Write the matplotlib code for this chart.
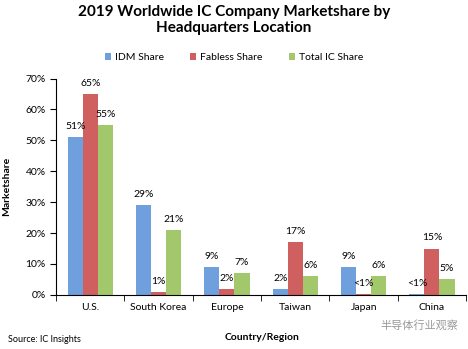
import numpy as np
import matplotlib.pyplot as plt

regions = ["U.S.", "South Korea", "Europe", "Taiwan", "Japan", "China"]
idm = [51, 29, 9, 2, 9, 0.3]
fabless = [65, 1, 2, 17, 0.3, 15]
total = [55, 21, 7, 6, 6, 5]
idm_lbl = ["51%", "29%", "9%", "2%", "9%", "<1%"]
fab_lbl = ["65%", "1%", "2%", "17%", "<1%", "15%"]
tot_lbl = ["55%", "21%", "7%", "6%", "6%", "5%"]

plt.rcParams['font.family'] = ['Lato', 'DejaVu Sans']

fig = plt.figure(figsize=(4.68, 3.49), dpi=100)
ax = fig.add_axes([0.12, 0.155, 0.876, 0.62])

x = np.arange(len(regions))
w = 0.22
cols = ["#6f9fdc", "#d0605f", "#a3c86b"]
b1 = ax.bar(x - w, idm, w, color=cols[0], label="IDM Share")
b2 = ax.bar(x, fabless, w, color=cols[1], label="Fabless Share")
b3 = ax.bar(x + w, total, w, color=cols[2], label="Total IC Share")

for bars, lbls in [(b1, idm_lbl), (b2, fab_lbl), (b3, tot_lbl)]:
    for b, t in zip(bars, lbls):
        ax.text(b.get_x() + b.get_width() / 2, b.get_height() + 2, t,
                ha="center", va="bottom", fontsize=7.5)

ax.set_ylim(0, 70)
ax.set_xlim(-0.5, len(regions) - 0.5)
ax.set_yticks(range(0, 71, 10))
ax.set_yticklabels([f"{v}%" for v in range(0, 71, 10)], fontsize=7.5)
ax.set_xticks(x)
ax.set_xticklabels(regions, fontsize=7.5)
ax.tick_params(axis="x", length=0, pad=6)
ax.set_xticks(np.arange(-0.5, len(regions), 1), minor=True)
ax.tick_params(axis="x", which="minor", length=4, direction="out")
ax.tick_params(axis="y", length=4, direction="out")
for s in ["top", "right"]:
    ax.spines[s].set_visible(False)

ax.set_ylabel("Marketshare", fontsize=7.5, fontweight="bold", labelpad=10)
fig.text(0.56, 0.032, "Country/Region", fontsize=7.5, fontweight="bold",
         ha="center", va="center")

fig.suptitle("2019 Worldwide IC Company Marketshare by\nHeadquarters Location",
             fontsize=11, fontweight="bold", y=0.985, linespacing=1.2)
fig.legend(handles=[b1, b2, b3], loc="center", bbox_to_anchor=(0.5, 0.835),
           ncol=3, frameon=False, fontsize=7.5, handlelength=0.6, handleheight=0.6,
           columnspacing=2.5, handletextpad=0.4)

fig.text(0.017, 0.026, "Source: IC Insights", fontsize=6.5, va="center")
fig.text(0.98, 0.068, "半导体行业观察", fontsize=8, color="#999999", ha="right",
         va="center", family=["Noto Sans CJK SC", "DejaVu Sans"])

fig.savefig("out.png", dpi=100)
